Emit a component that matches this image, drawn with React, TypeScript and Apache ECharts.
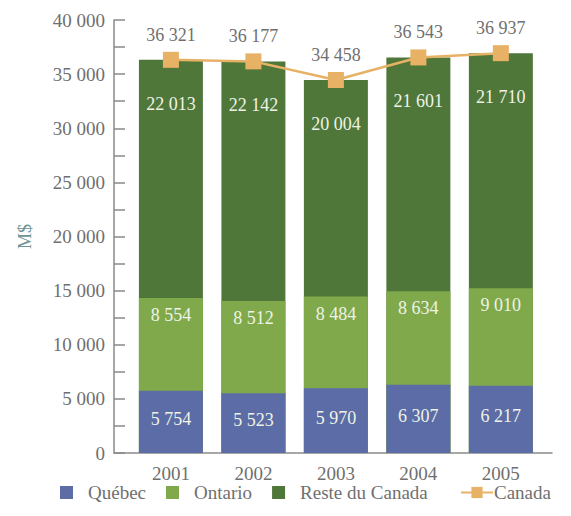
import React, { useEffect, useRef } from "react";
import * as echarts from "echarts";

const years = [2001, 2002, 2003, 2004, 2005];
const quebec = [5754, 5523, 5970, 6307, 6217];
const ontario = [8554, 8512, 8484, 8634, 9010];
const resteDuCanada = [22013, 22142, 20004, 21601, 21710];
const canada = [36321, 36177, 34458, 36543, 36937];

const fmt = (v: number) => String(v).replace(/\B(?=(\d{3})+(?!\d))/g, " ");
const FONT = "Liberation Serif";
const GREY = "#6f6f6f";

export default function App() {
  const ref = useRef<HTMLDivElement>(null);
  useEffect(() => {
    if (!ref.current) return;
    const chart = echarts.init(ref.current, null, { renderer: "svg" });
    // stacked tops built from the series arrays (stack drawn back to front)
    const layers = [quebec, ontario, resteDuCanada];
    const cumulative = (upTo: number) =>
      years.map((y, i) => {
        let s = 0;
        for (let k = 0; k <= upTo; k++) s += layers[k][i];
        return [y, s];
      });
    const barLabel = (src: number[], pos: any, distance: number) => ({
      show: true,
      position: pos,
      distance,
      color: "#eef3e6",
      fontFamily: FONT,
      fontSize: 18,
      formatter: (p: any) => fmt(src[p.dataIndex]),
    });
    chart.setOption({
      animation: false,
      backgroundColor: "#ffffff",
      grid: { left: 114, right: 19, top: 20, bottom: 63 },
      xAxis: {
        type: "value",
        min: 2000.31,
        max: 2005.62,
        splitLine: { show: false },
        axisTick: { show: false },
        axisLine: { show: true, lineStyle: { color: "#8a8a8a", width: 1.5 } },
        axisLabel: {
          color: GREY,
          fontFamily: FONT,
          fontSize: 19,
          margin: 11,
          showMinLabel: false,
          showMaxLabel: false,
          formatter: (v: number) => (Number.isInteger(v) ? String(v) : ""),
        },
      },
      yAxis: {
        type: "value",
        min: 0,
        max: 40000,
        interval: 5000,
        name: "M$",
        nameLocation: "middle",
        nameGap: 80,
        nameTextStyle: { color: "#6f9494", fontFamily: FONT, fontSize: 18 },
        splitLine: { show: false },
        axisLine: { show: true, lineStyle: { color: "#8a8a8a", width: 1.5 } },
        axisTick: { show: true, inside: true, length: 11, lineStyle: { color: "#8a8a8a", width: 1.5 } },
        minorTick: { show: true, splitNumber: 2, length: 11, lineStyle: { color: "#8a8a8a", width: 1.5 } },
        axisLabel: { color: GREY, fontFamily: FONT, fontSize: 19, margin: 9, formatter: (v: number) => fmt(v) },
      },
      legend: [
        {
          left: 55,
          top: 478,
          itemWidth: 13,
          itemHeight: 13,
          itemGap: 20,
          icon: "rect",
          textStyle: { color: GREY, fontFamily: FONT, fontSize: 19, padding: [0, 0, 0, 10] },
          data: ["Québec", "Ontario", "Reste du Canada"],
        },
        {
          left: 455,
          top: 478,
          itemWidth: 32,
          itemHeight: 14,
          textStyle: { color: GREY, fontFamily: FONT, fontSize: 19, padding: [0, 0, 0, -4] },
          data: ["Canada"],
        },
      ],
      series: [
        {
          name: "Reste du Canada",
          type: "bar",
          barWidth: 64,
          barGap: "-100%",
          z: 2,
          itemStyle: { color: "#50773a" },
          label: barLabel(resteDuCanada, "insideTop", 35),
          data: cumulative(2),
        },
        {
          name: "Ontario",
          type: "bar",
          barWidth: 64,
          barGap: "-100%",
          z: 3,
          itemStyle: { color: "#80a94b" },
          label: barLabel(ontario, "insideTop", 8),
          data: cumulative(1),
        },
        {
          name: "Québec",
          type: "bar",
          barWidth: 64,
          barGap: "-100%",
          z: 4,
          itemStyle: { color: "#5c6ca6" },
          label: { ...barLabel(quebec, "inside", 5), offset: [0, -3] },
          data: cumulative(0),
        },
        {
          name: "Canada",
          type: "line",
          z: 6,
          symbol: "rect",
          symbolSize: 16,
          itemStyle: { color: "#e8b266" },
          lineStyle: { color: "#e8b266", width: 2.5 },
          label: {
            show: true,
            position: "top",
            distance: 8,
            color: GREY,
            fontFamily: FONT,
            fontSize: 18,
            formatter: (p: any) => fmt(p.value[1]),
          },
          data: years.map((y, i) => [y, canada[i]]),
        },
      ],
    });
    return () => chart.dispose();
  }, []);
  return <div ref={ref} style={{ position: "fixed", left: 0, top: 0, width: 571, height: 516 }} />;
}
